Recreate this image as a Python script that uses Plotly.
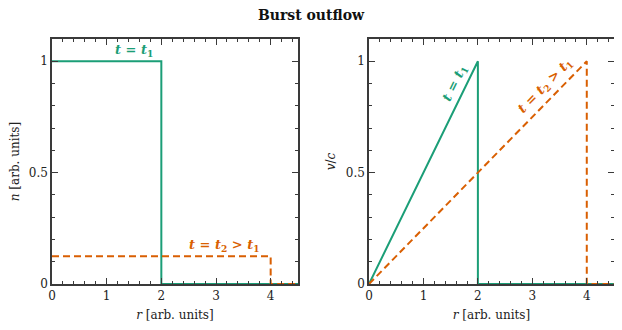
import plotly.graph_objects as go

# Data
r_n_t1 = [0, 2, 2, 4.5]
n_t1 = [1, 1, 0, 0]
r_n_t2 = [0, 4, 4, 4.5]
n_t2 = [0.125, 0.125, 0, 0]

r_v_t1 = [0, 2, 2, 4.5]
v_t1 = [0, 1, 0, 0]
r_v_t2 = [0, 4, 4, 4.5]
v_t2 = [0, 1, 0, 0]

x_ticks = [0, 1, 2, 3, 4]
y_ticks = [0, 0.5, 1]
y_ticklabels = ["0", "0.5", "1"]

GREEN = "#1b9e77"
ORANGE = "#d95f02"
FONT = "DejaVu Serif"
AX = "#3a3a3a"
DASH = "7px,4px"

# page has an 8px body margin; figure sized to fill the visible window
OFF = 8
W, H = 622 - OFF, 330 - OFF
px = lambda x: (x - OFF) / W
py = lambda y: 1 - (y - OFF) / H

fig = go.Figure()
fig.add_trace(go.Scatter(x=r_n_t1, y=n_t1, mode="lines", line=dict(color=GREEN, width=2),
                         xaxis="x", yaxis="y", showlegend=False))
fig.add_trace(go.Scatter(x=r_n_t2, y=n_t2, mode="lines", line=dict(color=ORANGE, width=2, dash=DASH),
                         xaxis="x", yaxis="y", showlegend=False))
fig.add_trace(go.Scatter(x=r_v_t1, y=v_t1, mode="lines", line=dict(color=GREEN, width=2),
                         xaxis="x2", yaxis="y2", showlegend=False))
fig.add_trace(go.Scatter(x=r_v_t2, y=v_t2, mode="lines", line=dict(color=ORANGE, width=2, dash=DASH),
                         xaxis="x2", yaxis="y2", showlegend=False))

def xax(domain, anchor):
    return dict(domain=domain, anchor=anchor, range=[0, 4.5], tickvals=x_ticks,
                ticks="inside", ticklen=6, tickwidth=1, tickcolor=AX,
                minor=dict(ticks="inside", dtick=0.2, ticklen=3, tickcolor=AX, tickwidth=1),
                showline=True, linecolor=AX, linewidth=1.5, mirror="allticks",
                showgrid=False, zeroline=False, automargin=False,
                tickfont=dict(family=FONT, size=12, color="#222"),
                title=dict(text="<i>r</i> [arb. units]", font=dict(family=FONT, size=12, color="#222"), standoff=8))

def yax(domain, anchor, title):
    return dict(domain=domain, anchor=anchor, range=[0, 1.1], tickvals=y_ticks, ticktext=y_ticklabels,
                ticks="inside", ticklen=6, tickwidth=1, tickcolor=AX,
                minor=dict(ticks="inside", dtick=0.1, ticklen=3, tickcolor=AX, tickwidth=1),
                showline=True, linecolor=AX, linewidth=1.5, mirror="allticks",
                showgrid=False, zeroline=False, automargin=False,
                tickfont=dict(family=FONT, size=12, color="#222"),
                title=dict(text=title, font=dict(family=FONT, size=12, color="#222"), standoff=8))

yd = [py(284), py(39)]
fig.update_layout(
    width=W, height=H,
    margin=dict(l=0, r=0, t=0, b=0),
    paper_bgcolor="white", plot_bgcolor="white",
    xaxis=xax([px(52), px(298)], "y"),
    yaxis=yax(yd, "x", "<i>n</i> [arb. units]"),
    xaxis2=xax([px(369), px(614)], "y2"),
    yaxis2=yax(yd, "x2", "<i>v</i>/<i>c</i>"),
    title=dict(text="<b>Burst outflow</b>", x=px(311), xanchor="center", y=py(15), yanchor="middle",
               font=dict(family=FONT, size=14, color="#111")),
)

ann_font = lambda c: dict(family=FONT, size=13, color=c)
fig.add_annotation(x=1.5, y=1.0, xref="x", yref="y", yanchor="bottom", showarrow=False,
                   text="<b><i>t</i> = <i>t</i><sub>1</sub></b>", font=ann_font(GREEN))
fig.add_annotation(x=3.15, y=0.125, xref="x", yref="y", yanchor="bottom", showarrow=False,
                   text="<b><i>t</i> = <i>t</i><sub>2</sub> &gt; <i>t</i><sub>1</sub></b>", font=ann_font(ORANGE))
fig.add_annotation(x=1.58, y=0.9, xref="x2", yref="y2", showarrow=False, textangle=-64,
                   text="<b><i>t</i> = <i>t</i><sub>1</sub></b>", font=ann_font(GREEN))
fig.add_annotation(x=3.25, y=0.89, xref="x2", yref="y2", showarrow=False, textangle=-45.5,
                   text="<b><i>t</i> = <i>t</i><sub>2</sub> &gt; <i>t</i><sub>1</sub></b>", font=ann_font(ORANGE))

fig.write_html("out.html")
